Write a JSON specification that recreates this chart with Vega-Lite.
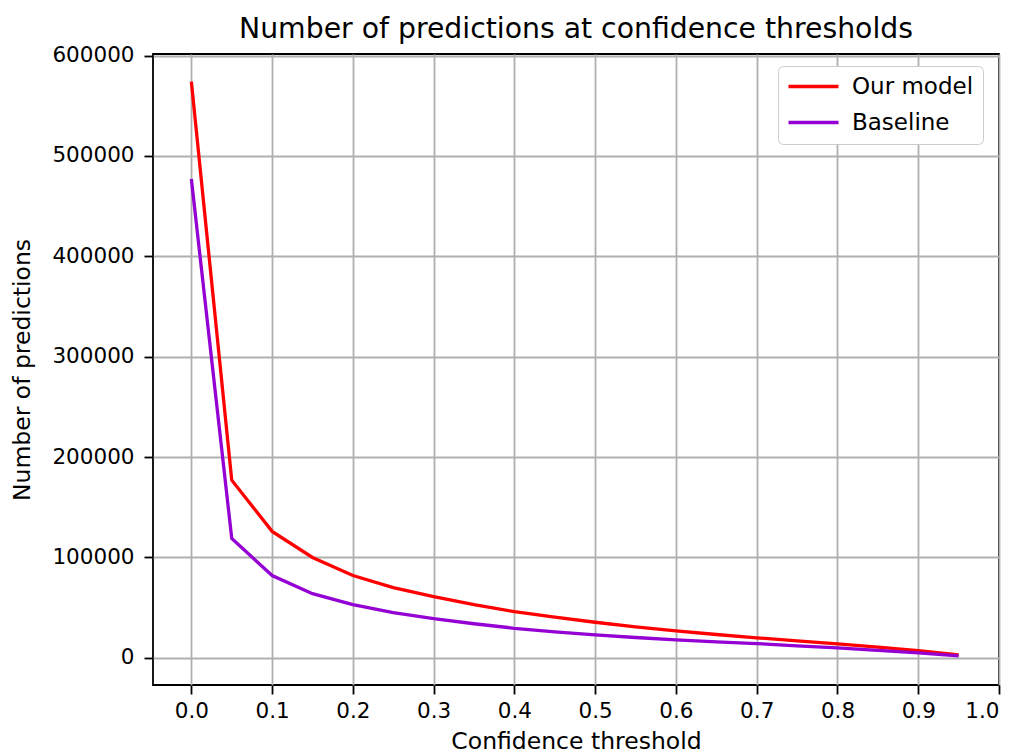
{
  "$schema": "https://vega.github.io/schema/vega-lite/v6.json",
  "width": 846,
  "height": 631,
  "autosize": {"type": "none"},
  "padding": {"left": 153, "top": 54, "right": 20, "bottom": 69},
  "background": "white",
  "config": {
    "font": "DejaVu Sans",
    "view": {"stroke": "black", "strokeWidth": 1.8},
    "axis": {
      "domain": false,
      "grid": true,
      "gridColor": "#b0b0b0",
      "gridWidth": 1.8,
      "ticks": true,
      "tickColor": "black",
      "tickWidth": 1.8,
      "tickSize": 9,
      "labelFont": "DejaVu Sans",
      "labelFontSize": 21.5,
      "labelColor": "black",
      "titleFont": "DejaVu Sans",
      "titleFontSize": 23.5,
      "titleFontWeight": "normal",
      "titleColor": "black"
    },
    "legend": {
      "labelFont": "DejaVu Sans",
      "labelFontSize": 23,
      "labelColor": "black"
    }
  },
  "title": {
    "text": "Number of predictions at confidence thresholds",
    "fontSize": 28.3,
    "fontWeight": "normal",
    "font": "DejaVu Sans",
    "color": "black",
    "anchor": "middle",
    "offset": 0
  },
  "data": {
    "values": [
      {"threshold": 0.00, "series": "Our model", "count": 574000},
      {"threshold": 0.05, "series": "Our model", "count": 177000},
      {"threshold": 0.10, "series": "Our model", "count": 126000},
      {"threshold": 0.15, "series": "Our model", "count": 100000},
      {"threshold": 0.20, "series": "Our model", "count": 82000},
      {"threshold": 0.25, "series": "Our model", "count": 70000},
      {"threshold": 0.30, "series": "Our model", "count": 61000},
      {"threshold": 0.35, "series": "Our model", "count": 53000},
      {"threshold": 0.40, "series": "Our model", "count": 46000},
      {"threshold": 0.45, "series": "Our model", "count": 40500},
      {"threshold": 0.50, "series": "Our model", "count": 35500},
      {"threshold": 0.55, "series": "Our model", "count": 31000},
      {"threshold": 0.60, "series": "Our model", "count": 27000},
      {"threshold": 0.65, "series": "Our model", "count": 23300},
      {"threshold": 0.70, "series": "Our model", "count": 20000},
      {"threshold": 0.75, "series": "Our model", "count": 17000},
      {"threshold": 0.80, "series": "Our model", "count": 14000},
      {"threshold": 0.85, "series": "Our model", "count": 10700},
      {"threshold": 0.90, "series": "Our model", "count": 7300},
      {"threshold": 0.95, "series": "Our model", "count": 3000},
      {"threshold": 0.00, "series": "Baseline", "count": 477000},
      {"threshold": 0.05, "series": "Baseline", "count": 119000},
      {"threshold": 0.10, "series": "Baseline", "count": 82000},
      {"threshold": 0.15, "series": "Baseline", "count": 64000},
      {"threshold": 0.20, "series": "Baseline", "count": 53000},
      {"threshold": 0.25, "series": "Baseline", "count": 45000},
      {"threshold": 0.30, "series": "Baseline", "count": 39000},
      {"threshold": 0.35, "series": "Baseline", "count": 34000},
      {"threshold": 0.40, "series": "Baseline", "count": 29500},
      {"threshold": 0.45, "series": "Baseline", "count": 26000},
      {"threshold": 0.50, "series": "Baseline", "count": 23000},
      {"threshold": 0.55, "series": "Baseline", "count": 20300},
      {"threshold": 0.60, "series": "Baseline", "count": 17900},
      {"threshold": 0.65, "series": "Baseline", "count": 16000},
      {"threshold": 0.70, "series": "Baseline", "count": 14300},
      {"threshold": 0.75, "series": "Baseline", "count": 12000},
      {"threshold": 0.80, "series": "Baseline", "count": 10000},
      {"threshold": 0.85, "series": "Baseline", "count": 7500},
      {"threshold": 0.90, "series": "Baseline", "count": 5000},
      {"threshold": 0.95, "series": "Baseline", "count": 2000}
    ]
  },
  "mark": {"type": "line", "strokeWidth": 3.3},
  "encoding": {
    "x": {
      "field": "threshold",
      "type": "quantitative",
      "scale": {"domain": [-0.0475, 1.0], "nice": false, "zero": false},
      "axis": {
        "title": "Confidence threshold",
        "values": [0, 0.1, 0.2, 0.3, 0.4, 0.5, 0.6, 0.7, 0.8, 0.9, 1.0],
        "format": ".1f",
        "labelPadding": 6,
        "titlePadding": 8
      }
    },
    "y": {
      "field": "count",
      "type": "quantitative",
      "scale": {"domain": [-27000, 601500], "nice": false, "zero": false},
      "axis": {
        "title": "Number of predictions",
        "values": [0, 100000, 200000, 300000, 400000, 500000, 600000],
        "format": "d",
        "labelPadding": 10,
        "titlePadding": 17
      }
    },
    "color": {
      "field": "series",
      "type": "nominal",
      "sort": ["Our model", "Baseline"],
      "scale": {"domain": ["Our model", "Baseline"], "range": ["#ff0000", "#9400d3"]},
      "legend": {
        "title": null,
        "orient": "none",
        "legendX": 625,
        "legendY": 12,
        "symbolType": "M-4,0H4",
        "symbolSize": 156.25,
        "symbolStrokeWidth": 3.3,
        "symbolOffset": 15,
        "labelOffset": 27,
        "rowPadding": 12,
        "padding": 9,
        "strokeColor": "#cccccc",
        "fillColor": "white",
        "cornerRadius": 5
      }
    }
  }
}
